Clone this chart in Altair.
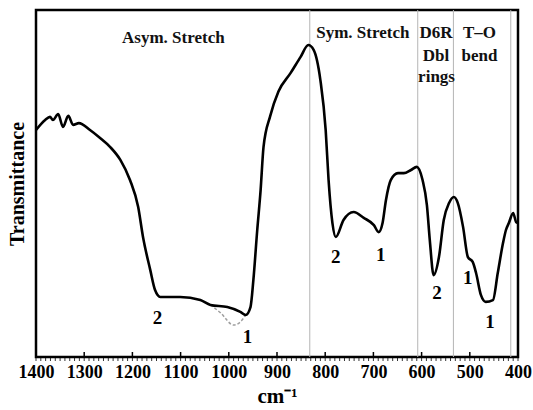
import altair as alt
import pandas as pd

# Main IR spectrum (wavenumber in cm-1, transmittance in arbitrary % of frame)
wavenumber = [1400, 1381, 1371, 1365, 1354, 1344, 1333, 1323, 1311, 1288, 1267, 1246,
              1225, 1205, 1188, 1178, 1163, 1153, 1142, 1101, 1059, 1038, 1003, 976,
              965, 955, 949, 941, 934, 928, 914, 897, 872, 851, 835, 824, 810, 799,
              793, 785, 778, 762, 741, 720, 699, 689, 681, 674, 664, 649, 637, 622,
              610, 598, 589, 583, 575, 564, 554, 543, 533, 525, 514, 504, 494, 487,
              477, 467, 452, 442, 431, 425, 419, 410, 404, 400]
transmittance = [65.4, 68.3, 69.2, 68.3, 70.0, 66.3, 69.5, 66.9, 67.4, 65.4, 63.1, 60.5,
                 56.8, 51.0, 43.2, 34.6, 25.1, 19.3, 17.3, 17.3, 16.4, 15.0, 14.4, 13.0,
                 12.1, 14.4, 22.2, 36.6, 48.1, 60.5, 69.5, 76.5, 81.8, 86.5, 89.9, 88.5,
                 79.8, 65.4, 51.0, 38.6, 34.6, 39.5, 41.8, 40.1, 38.0, 36.0, 38.6, 45.2,
                 51.0, 53.0, 53.0, 53.9, 54.8, 51.0, 43.8, 33.7, 23.6, 28.8, 39.5, 44.4,
                 46.1, 44.4, 37.5, 28.8, 27.4, 24.2, 17.9, 15.9, 16.4, 24.2, 32.9, 36.6,
                 38.6, 41.5, 38.9, 38.6]

# Dashed (deconvoluted) shoulder
dash_wn = [1038, 1017, 990, 976, 965]
dash_t = [15.0, 12.7, 9.2, 10.1, 12.1]

# Region separators
band_edges = [832, 608, 534, 415]

# Region labels
region_text = ["Asym. Stretch", "Sym. Stretch", "D6R", "Dbl", "rings", "T\u2013O", "bend"]
region_wn = [1115, 722, 570, 570, 569, 480, 480]
region_t = [91.9, 93.4, 93.4, 86.6, 80.8, 93.4, 86.6]

# Peak number labels
peak_text = ["2", "1", "2", "1", "2", "1", "1"]
peak_wn = [1148, 961, 778, 685, 568, 504, 458]
peak_t = [11.2, 5.8, 28.8, 29.4, 18.4, 22.8, 10.1]

major_ticks = [1400, 1300, 1200, 1100, 1000, 900, 800, 700, 600, 500, 400]
minor_ticks = list(range(400, 1401, 10))

spec = pd.DataFrame({"wn": wavenumber, "t": transmittance})
dash = pd.DataFrame({"wn": dash_wn, "t": dash_t})
edges = pd.DataFrame({"wn": band_edges})
regions = pd.DataFrame({"wn": region_wn, "t": region_t, "label": region_text})
peaks = pd.DataFrame({"wn": peak_wn, "t": peak_t, "label": peak_text})
majors = pd.DataFrame({"wn": major_ticks})
minors = pd.DataFrame({"wn": minor_ticks})

FONT = "Liberation Serif, Times New Roman, serif"
xscale = alt.Scale(domain=[400, 1400], reverse=True, nice=False, zero=False)
yscale = alt.Scale(domain=[0, 100], nice=False, zero=False)

xaxis = alt.Axis(values=major_ticks, format="d", ticks=False, domain=False, grid=False,
                 labelFont=FONT, labelFontSize=18, labelFontWeight="bold",
                 labelColor="black", labelPadding=6, labelFlush=False,
                 title="cm\u207b\u00b9", titleFont=FONT, titleFontSize=21,
                 titleFontWeight="bold", titleColor="black", titlePadding=4)
yaxis = alt.Axis(ticks=False, labels=False, domain=False, grid=False,
                 title="Transmittance", titleFont=FONT, titleFontSize=20,
                 titleFontWeight="bold", titleColor="black", titlePadding=9)

edge_layer = alt.Chart(edges).mark_rule(color="#b5b5b5", strokeWidth=1).encode(
    x=alt.X("wn:Q", scale=xscale, axis=xaxis),
)

line = alt.Chart(spec).mark_line(color="black", strokeWidth=2.6, interpolate="monotone").encode(
    x=alt.X("wn:Q", scale=xscale, axis=xaxis),
    y=alt.Y("t:Q", scale=yscale, axis=yaxis),
    order=alt.Order("wn:Q", sort="descending"),
)

dashed = alt.Chart(dash).mark_line(color="#a0a0a0", strokeWidth=1.5, strokeDash=[3, 2],
                                   interpolate="monotone").encode(
    x=alt.X("wn:Q", scale=xscale),
    y=alt.Y("t:Q", scale=yscale),
    order=alt.Order("wn:Q", sort="descending"),
)

region_layer = alt.Chart(regions).mark_text(font=FONT, fontSize=17, fontWeight="bold",
                                            color="#111111", baseline="middle").encode(
    x=alt.X("wn:Q", scale=xscale),
    y=alt.Y("t:Q", scale=yscale),
    text="label:N",
)

peak_layer = alt.Chart(peaks).mark_text(font=FONT, fontSize=19, fontWeight="bold",
                                        color="black", baseline="middle").encode(
    x=alt.X("wn:Q", scale=xscale),
    y=alt.Y("t:Q", scale=yscale),
    text="label:N",
)

major_layer = alt.Chart(majors).mark_rule(color="black", strokeWidth=1.5).encode(
    x=alt.X("wn:Q", scale=xscale),
    y=alt.value(342),
    y2=alt.value(347),
)

minor_layer = alt.Chart(minors).mark_rule(color="black", strokeWidth=0.8).encode(
    x=alt.X("wn:Q", scale=xscale),
    y=alt.value(347),
    y2=alt.value(351),
)

chart = alt.layer(
    edge_layer, dashed, line, region_layer, peak_layer, minor_layer, major_layer
).properties(
    width=482, height=347,
    autosize=alt.AutoSizeParams(type="none"),
    padding={"left": 36, "top": 10, "right": 15, "bottom": 53},
    background="white",
).configure_view(
    stroke="black", strokeWidth=2.5,
)

chart.save("out.html", embed_options={"renderer": "svg", "actions": False})
